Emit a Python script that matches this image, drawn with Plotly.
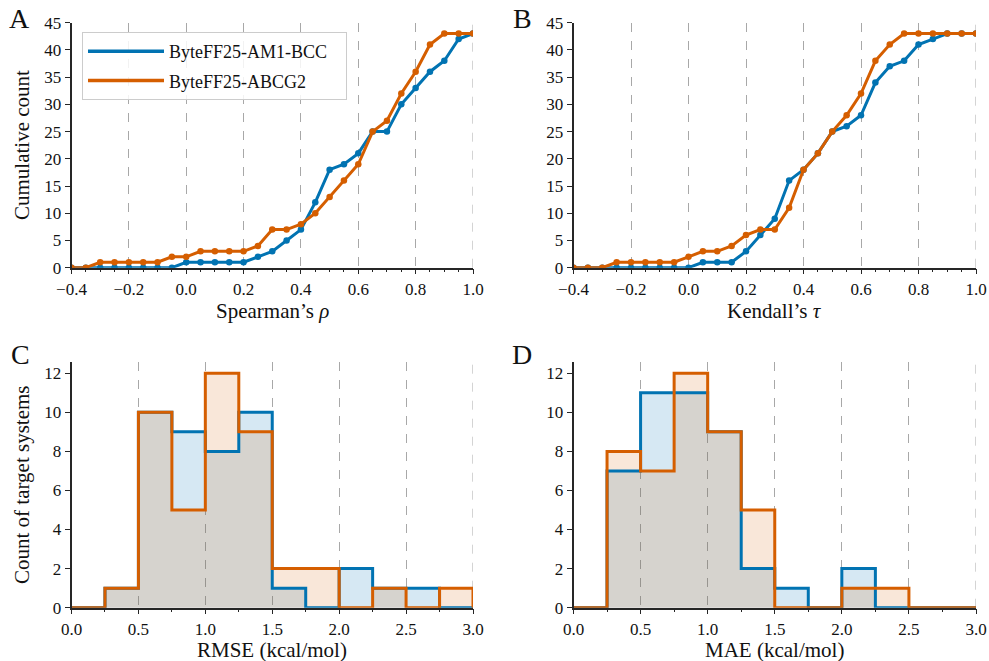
import plotly.graph_objects as go

# ---------------- data ----------------
rank_x = [-0.40, -0.35, -0.30, -0.25, -0.20, -0.15, -0.10, -0.05, 0.00, 0.05,
          0.10, 0.15, 0.20, 0.25, 0.30, 0.35, 0.40, 0.45, 0.50, 0.55,
          0.60, 0.65, 0.70, 0.75, 0.80, 0.85, 0.90, 0.95, 1.00]

spearman_am1 = [0, 0, 0, 0, 0, 0, 0, 0, 1, 1,
                1, 1, 1, 2, 3, 5, 7, 12, 18, 19,
                21, 25, 25, 30, 33, 36, 38, 42, 43]
spearman_abcg2 = [0, 0, 1, 1, 1, 1, 1, 2, 2, 3,
                  3, 3, 3, 4, 7, 7, 8, 10, 13, 16,
                  19, 25, 27, 32, 36, 41, 43, 43, 43]

kendall_am1 = [0, 0, 0, 0, 0, 0, 0, 0, 0, 1,
               1, 1, 3, 6, 9, 16, 18, 21, 25, 26,
               28, 34, 37, 38, 41, 42, 43, 43, 43]
kendall_abcg2 = [0, 0, 0, 1, 1, 1, 1, 1, 2, 3,
                 3, 4, 6, 7, 7, 11, 18, 21, 25, 28,
                 32, 38, 41, 43, 43, 43, 43, 43, 43]

bin_edges = [0.0, 0.25, 0.5, 0.75, 1.0, 1.25, 1.5, 1.75, 2.0, 2.25, 2.5, 2.75, 3.0]

rmse_am1 = [0, 1, 10, 9, 8, 10, 1, 0, 2, 1, 1, 0]
rmse_abcg2 = [0, 1, 10, 5, 12, 9, 2, 2, 0, 1, 0, 1]

mae_am1 = [0, 7, 11, 11, 9, 2, 1, 0, 2, 0, 0, 0]
mae_abcg2 = [0, 8, 7, 12, 9, 5, 0, 0, 1, 1, 0, 0]

names = ["ByteFF25-AM1-BCC", "ByteFF25-ABCG2"]

# ---------------- style ----------------
BLUE = "#0173b2"
ORANGE = "#d55e00"
BLUE_FILL = "rgba(1,115,178,0.16)"
ORANGE_FILL = "rgba(213,94,0,0.15)"
FONT = "Liberation Serif"
AX = "#262626"
GRID = "#a8a8a8"

W, H = 989, 661


def px(x):
    return x / W


def py(y):
    return 1 - y / H


fig = go.Figure()


def add_cum(xa, ya, y_am1, y_abcg2):
    for yy, col in ((y_am1, BLUE), (y_abcg2, ORANGE)):
        fig.add_trace(go.Scatter(
            x=rank_x, y=yy, mode="lines+markers", xaxis=xa, yaxis=ya,
            line=dict(color=col, width=3), marker=dict(color=col, size=6.5),
            showlegend=False, hoverinfo="skip"))


def add_hist(xa, ya, c_am1, c_abcg2):
    centers = [(bin_edges[i] + bin_edges[i + 1]) / 2 for i in range(len(bin_edges) - 1)]
    widths = [bin_edges[i + 1] - bin_edges[i] for i in range(len(bin_edges) - 1)]
    for cc, fill in ((c_am1, BLUE_FILL), (c_abcg2, ORANGE_FILL)):
        fig.add_trace(go.Bar(
            x=centers, y=cc, width=widths, xaxis=xa, yaxis=ya,
            marker=dict(color=fill, line=dict(width=0)),
            showlegend=False, hoverinfo="skip"))
    for cc, col in ((c_am1, BLUE), (c_abcg2, ORANGE)):
        sx = [bin_edges[0]] + bin_edges + [bin_edges[-1]]
        sy = [0] + list(cc) + [cc[-1], 0]
        fig.add_trace(go.Scatter(
            x=sx, y=sy, mode="lines", line_shape="hv", xaxis=xa, yaxis=ya,
            line=dict(color=col, width=3), showlegend=False, hoverinfo="skip"))


add_cum("x", "y", spearman_am1, spearman_abcg2)
add_cum("x2", "y2", kendall_am1, kendall_abcg2)
add_hist("x3", "y3", rmse_am1, rmse_abcg2)
add_hist("x4", "y4", mae_am1, mae_abcg2)

# legend-only entries
for nm, col in zip(names, (BLUE, ORANGE)):
    fig.add_trace(go.Scatter(x=[None], y=[None], mode="lines",
                             name=nm + "\u00a0\u00a0\u00a0",
                             legendgroup=nm, line=dict(color=col, width=3.5),
                             xaxis="x", yaxis="y"))

# ---------------- axes ----------------
dom_x_left = [px(71.5), px(473)]
dom_x_right = [px(573.5), px(976)]
dom_y_top = [py(267.7), py(22.7)]
dom_y_bot = [py(607.7), py(361.5)]

base = dict(showline=True, linecolor=AX, linewidth=1.5, ticks="outside",
            ticklen=5, tickwidth=1.2, tickcolor=AX, zeroline=False,
            automargin=False,
            tickfont=dict(family=FONT, size=17, color="#111111"),
            fixedrange=True)


def xax(domain, anchor, rng, dtick, mdtick):
    d = dict(base)
    d.update(domain=domain, anchor=anchor, range=rng, dtick=dtick, tick0=0,
             tickformat=".1f", showgrid=True, griddash="dash",
             gridcolor=GRID, gridwidth=1,
             minor=dict(dtick=mdtick, tick0=0, ticks="outside", ticklen=3,
                        tickwidth=1, tickcolor=AX, showgrid=False))
    return d


def yax(domain, anchor, rng, dtick):
    d = dict(base)
    d.update(domain=domain, anchor=anchor, range=rng, dtick=dtick, tick0=0,
             showgrid=False)
    return d


x_ranges = {"x": [-0.4, 1.0], "x2": [-0.4, 1.0], "x3": [0, 3.0], "x4": [0, 3.0]}

fig.update_layout(
    width=W, height=H,
    margin=dict(l=0, r=0, t=0, b=0, autoexpand=False),
    paper_bgcolor="white", plot_bgcolor="white",
    font=dict(family=FONT, color="#111111"),
    barmode="overlay", bargap=0,
    xaxis=xax(dom_x_left, "y", x_ranges["x"], 0.2, 0.05),
    yaxis=yax(dom_y_top, "x", [0, 45], 5),
    xaxis2=xax(dom_x_right, "y2", x_ranges["x2"], 0.2, 0.05),
    yaxis2=yax(dom_y_top, "x2", [0, 45], 5),
    xaxis3=xax(dom_x_left, "y3", x_ranges["x3"], 0.5, 0.25),
    yaxis3=yax(dom_y_bot, "x3", [0, 12.6], 2),
    xaxis4=xax(dom_x_right, "y4", x_ranges["x4"], 0.5, 0.25),
    yaxis4=yax(dom_y_bot, "x4", [0, 12.6], 2),
    legend=dict(x=px(82), y=py(32), xanchor="left", yanchor="top",
                bgcolor="rgba(255,255,255,0.85)", bordercolor="#cccccc",
                borderwidth=1, font=dict(family=FONT, size=18, color="#111111"),
                itemwidth=76, traceorder="grouped", tracegroupgap=3),
    showlegend=True,
)

# dashed grid line at the right end of each x range (plotly omits it at the edge)
for xa, rng in x_ranges.items():
    ya = "y" + xa[1:]
    fig.add_shape(type="line", xref=xa, yref=ya + " domain",
                  x0=rng[1], x1=rng[1], y0=0, y1=1, layer="below",
                  line=dict(color=GRID, width=1, dash="dash"))

ann = []


def text(x, y, s, size, angle=0):
    ann.append(dict(x=px(x), y=py(y), xref="paper", yref="paper", text=s,
                    showarrow=False, xanchor="center", yanchor="middle",
                    textangle=angle, font=dict(family=FONT, size=size, color="#111111")))


text(272, 311, "Spearman’s <i>ρ</i>", 21)
text(774.5, 311, "Kendall’s <i>τ</i>", 21)
text(272, 650, "RMSE (kcal/mol)", 21)
text(774.5, 650, "MAE (kcal/mol)", 21)
text(22, 145, "Cumulative count", 21, -90)
text(22, 485, "Count of target systems", 21, -90)
text(19, 19, "A", 28)
text(522, 19, "B", 28)
text(20, 354, "C", 28)
text(522, 354, "D", 28)
fig.update_layout(annotations=ann)

fig.write_html("out.html", config={"displayModeBar": False},
               post_script="document.body.style.margin='0';document.body.style.padding='0';")
